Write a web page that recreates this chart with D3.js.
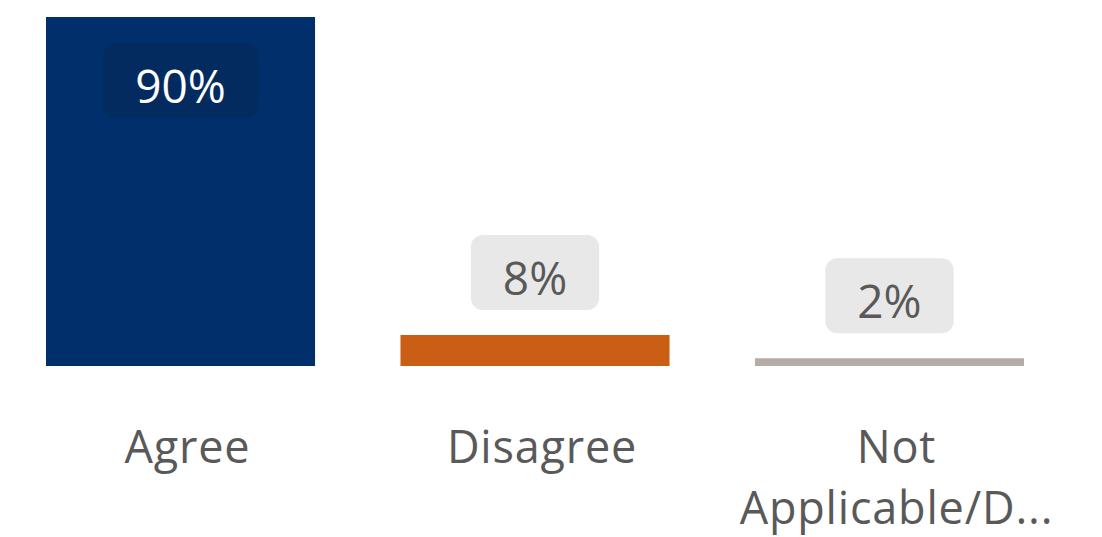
<!DOCTYPE html>
<html>
<head>
<meta charset="utf-8">
<script src="https://cdn.jsdelivr.net/npm/d3@7"></script>
<style>
  html, body { margin: 0; padding: 0; background: #fff; }
  svg { display: block; }
</style>
</head>
<body>
<svg id="chart" width="1102" height="537"></svg>
<script>
const categories = ["Agree", "Disagree", "Not Applicable/Don't Know"];
const values = [90, 8, 2];
const valueLabels = ["90%", "8%", "2%"];
const axisLabels = [["Agree"], ["Disagree"], ["Not", "Applicable/D..."]];
const colors = ["#002F6C", "#CA5E15", "#B5ADA5"];

const svg = d3.select("#chart");
const font = "'Segoe UI', 'Open Sans', 'Noto Sans', sans-serif";

const x = d3.scaleBand().domain(categories).range([46, 1024]).paddingInner(0.241).paddingOuter(0);
const y = d3.scaleLinear().domain([0, 90]).range([366, 17]);

const data = categories.map((c, i) => ({c, v: values[i], label: valueLabels[i], color: colors[i], lines: axisLabels[i], i}));

svg.selectAll("rect.bar").data(data).join("rect")
  .attr("class", "bar")
  .attr("x", d => x(d.c))
  .attr("width", x.bandwidth())
  .attr("y", d => y(d.v))
  .attr("height", d => y(0) - y(d.v))
  .attr("fill", d => d.color);

// value labels
const boxH = 75;
data.forEach(d => {
  const inside = d.v > 50;
  const cx = x(d.c) + x.bandwidth() / 2;
  const boxTop = inside ? y(d.v) + 26 : y(d.v) - 25 - boxH;
  const g = svg.append("g");
  const rect = g.append("rect");
  const t = g.append("text")
    .attr("x", cx)
    .attr("y", boxTop + 60)
    .attr("text-anchor", "middle")
    .attr("font-family", font)
    .attr("font-size", 46)
    .attr("fill", inside ? "#ffffff" : "#595959")
    .text(d.label);
  const w = t.node().getComputedTextLength() + 64;
  rect.attr("x", cx - w / 2).attr("y", boxTop).attr("width", w).attr("height", boxH)
    .attr("rx", 12).attr("ry", 12)
    .attr("fill", inside ? "#032B60" : "#E8E8E8");
});

// category labels
data.forEach(d => {
  const cx = x(d.c) + x.bandwidth() / 2 + 7;
  const t = svg.append("text")
    .attr("text-anchor", "middle")
    .attr("font-family", font)
    .attr("font-size", 45)
    .attr("letter-spacing", 0.8)
    .attr("fill", "#595959");
  d.lines.forEach((ln, k) => {
    t.append("tspan").attr("x", cx).attr("y", 463 + k * 61).text(ln);
  });
});
</script>
</body>
</html>
